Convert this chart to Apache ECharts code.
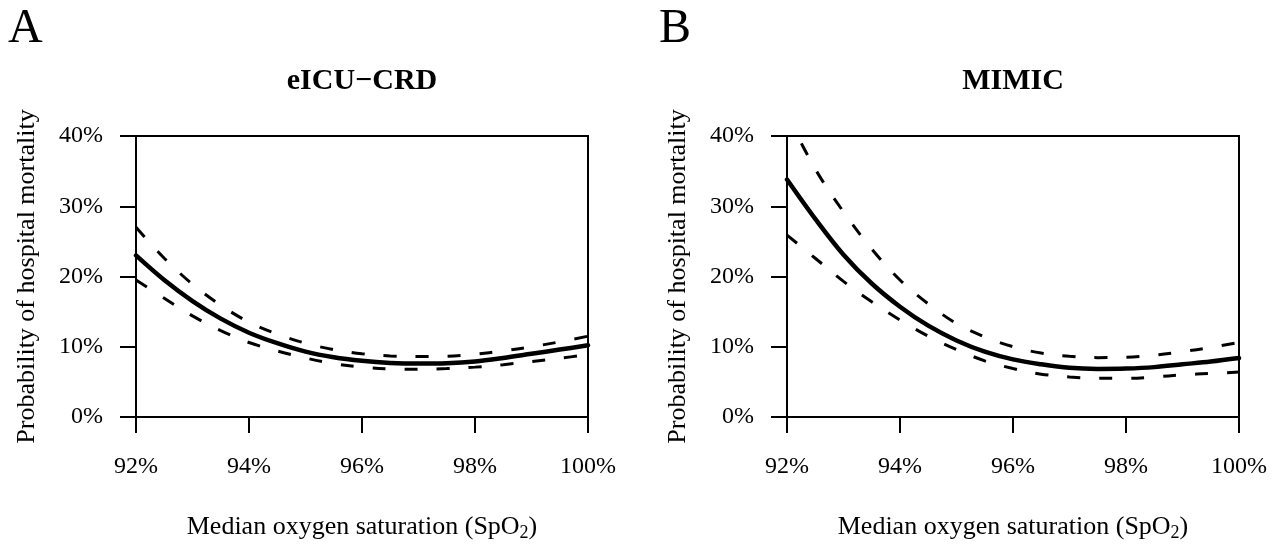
<!DOCTYPE html>
<html>
<head>
<meta charset="utf-8">
<script src="https://cdn.jsdelivr.net/npm/echarts@6/dist/echarts.min.js"></script>
<style>
html,body{margin:0;padding:0;background:#fff;}
#chart{width:1279px;height:545px;}
</style>
</head>
<body>
<div id="chart"></div>
<script>
// ---- data ----
const spo2 = [92, 92.5, 93, 93.5, 94, 94.5, 95, 95.5, 96, 96.5, 97, 97.5, 98, 98.5, 99, 99.5, 100];

const eicuFit   = [23.0, 19.5, 16.5, 14.0, 12.0, 10.5, 9.3, 8.5, 8.0, 7.7, 7.6, 7.65, 7.9, 8.4, 9.0, 9.6, 10.2];
const eicuUpper = [27.0, 22.6, 18.9, 15.9, 13.5, 11.8, 10.5, 9.6, 9.0, 8.7, 8.6, 8.65, 8.95, 9.4, 10.0, 10.7, 11.5];
const eicuLower = [19.5, 16.9, 14.4, 12.3, 10.6, 9.4, 8.4, 7.6, 7.1, 6.85, 6.8, 6.9, 7.1, 7.45, 7.9, 8.35, 8.9];

const mimicFit   = [33.8, 28.2, 23.1, 19.0, 15.7, 13.0, 10.9, 9.3, 8.2, 7.5, 7.0, 6.85, 6.9, 7.1, 7.5, 7.9, 8.4];
const mimicUpper = [43.0, 35.3, 29.2, 23.9, 19.5, 16.1, 13.3, 11.4, 10.0, 9.1, 8.65, 8.45, 8.5, 8.8, 9.3, 9.9, 10.6];
const mimicLower = [25.9, 22.6, 19.3, 16.4, 13.8, 11.5, 9.6, 8.0, 6.9, 6.1, 5.7, 5.5, 5.5, 5.7, 6.0, 6.2, 6.4];

const panelLetters = ['A', 'B'];
const panelTitles = ['eICU\u2212CRD', 'MIMIC'];
const xTitle = 'Median oxygen saturation (SpO{s|2})';
const yTitle = 'Probability of hospital mortality';

// ---- chart ----
const FONT = '"Liberation Serif", "Times New Roman", serif';
const grids = [
  {left: 136, top: 136, width: 452, height: 281},
  {left: 787, top: 136, width: 452, height: 281}
];

function pairs(ys) { return spo2.map((x, i) => [x, ys[i]]); }

function xAxisCfg(gi) {
  return {
    type: 'value', gridIndex: gi, min: 92, max: 100, interval: 2,
    axisLine: {show: true, onZero: false, lineStyle: {color: '#000', width: 2}},
    axisTick: {show: true, inside: false, length: 16, lineStyle: {color: '#000', width: 2}},
    axisLabel: {formatter: '{value}%', color: '#000', fontFamily: FONT, fontSize: 24, margin: 38},
    splitLine: {show: false}
  };
}
function yAxisCfg(gi) {
  return {
    type: 'value', gridIndex: gi, min: 0, max: 40, interval: 10,
    axisLine: {show: true, onZero: false, lineStyle: {color: '#000', width: 2}},
    axisTick: {show: true, inside: false, length: 16, lineStyle: {color: '#000', width: 2}},
    axisLabel: {formatter: '{value}%', color: '#000', fontFamily: FONT, fontSize: 24, margin: 33},
    splitLine: {show: false}
  };
}
function lineSeries(gi, ys, dashed) {
  return {
    type: 'line', xAxisIndex: gi, yAxisIndex: gi, data: pairs(ys),
    smooth: 0.35, showSymbol: false, symbol: 'none', clip: true, silent: true,
    lineStyle: dashed
      ? {color: '#000', width: 3, type: [13, 19], cap: 'butt'}
      : {color: '#000', width: 4.5, type: 'solid', cap: 'round'},
    z: dashed ? 2 : 3
  };
}

const graphics = [];
grids.forEach((g, i) => {
  const cx = g.left + g.width / 2;
  graphics.push({
    type: 'text', x: 8 + i * 651, y: 29,
    style: {text: panelLetters[i], fontSize: 48, fontFamily: FONT, fill: '#000', align: 'left', verticalAlign: 'middle'}
  });
  graphics.push({
    type: 'text', x: cx, y: 81,
    style: {text: panelTitles[i], fontSize: 30, fontWeight: 'bold', fontFamily: FONT, fill: '#000', align: 'center', verticalAlign: 'middle'}
  });
  graphics.push({
    type: 'text', x: cx, y: 527,
    style: {
      text: xTitle, fontSize: 26, fontFamily: FONT, fill: '#000', align: 'center', verticalAlign: 'middle',
      lineHeight: 30,
      rich: {s: {fontSize: 18, lineHeight: 18, padding: [12, 0, 0, 0], fontFamily: FONT, fill: '#000'}}
    }
  });
  graphics.push({
    type: 'text', x: g.left - 109, y: g.top + g.height / 2, rotation: Math.PI / 2,
    style: {text: yTitle, fontSize: 26, fontFamily: FONT, fill: '#000', align: 'center', verticalAlign: 'middle'}
  });
});

const option = {
  backgroundColor: '#fff',
  animation: false,
  grid: grids.map(g => Object.assign({show: true, borderColor: '#000', borderWidth: 2, backgroundColor: 'transparent', containLabel: false}, g)),
  xAxis: [xAxisCfg(0), xAxisCfg(1)],
  yAxis: [yAxisCfg(0), yAxisCfg(1)],
  series: [
    lineSeries(0, eicuUpper, true), lineSeries(0, eicuLower, true), lineSeries(0, eicuFit, false),
    lineSeries(1, mimicUpper, true), lineSeries(1, mimicLower, true), lineSeries(1, mimicFit, false)
  ],
  graphic: graphics
};

const chart = echarts.init(document.getElementById('chart'), null, {renderer: 'canvas'});
chart.setOption(option);
</script>
</body>
</html>
